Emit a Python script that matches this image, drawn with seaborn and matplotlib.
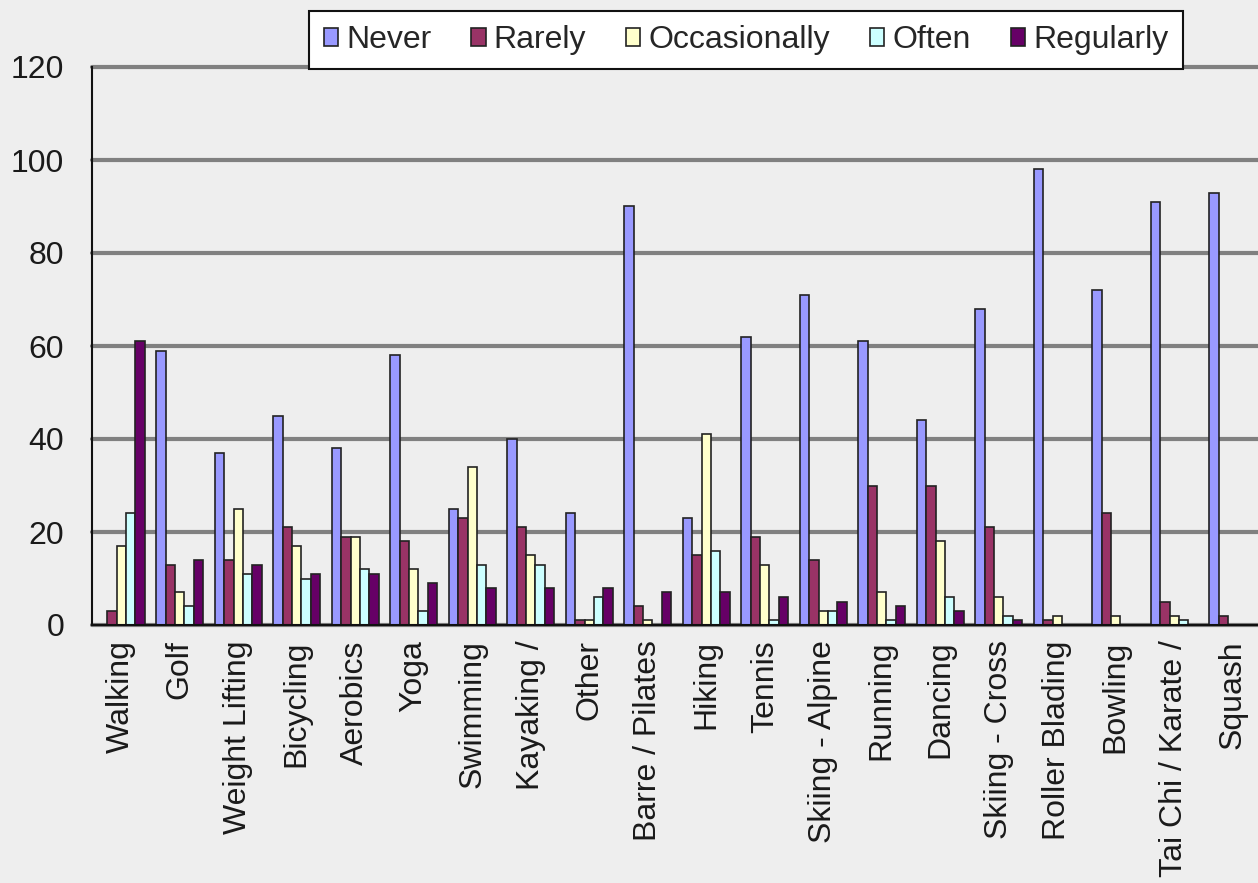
import numpy as np
import pandas as pd
import matplotlib
matplotlib.use("Agg")
import matplotlib.pyplot as plt
import seaborn as sns

# activities in chart order
activities = [
    "Walking", "Golf", "Weight Lifting", "Bicycling", "Aerobics", "Yoga",
    "Swimming", "Kayaking /", "Other", "Barre / Pilates", "Hiking", "Tennis",
    "Skiing - Alpine", "Running", "Dancing", "Skiing - Cross", "Roller Blading",
    "Bowling", "Tai Chi / Karate /", "Squash",
]
frequencies = ["Never", "Rarely", "Occasionally", "Often", "Regularly"]

never = [0, 59, 37, 45, 38, 58, 25, 40, 24, 90, 23, 62, 71, 61, 44, 68, 98, 72, 91, 93]
rarely = [3, 13, 14, 21, 19, 18, 23, 21, 1, 4, 15, 19, 14, 30, 30, 21, 1, 24, 5, 2]
occasionally = [17, 7, 25, 17, 19, 12, 34, 15, 1, 1, 41, 13, 3, 7, 18, 6, 2, 2, 2, 0]
often = [24, 4, 11, 10, 12, 3, 13, 13, 6, 0, 16, 1, 3, 1, 6, 2, 0, 0, 1, 0]
regularly = [61, 14, 13, 11, 11, 9, 8, 8, 8, 7, 7, 6, 5, 4, 3, 1, 0, 0, 0, 0]

colors = ["#9999FF", "#993366", "#FFFFCC", "#CCFFFF", "#660066"]

series = [never, rarely, occasionally, often, regularly]
df = pd.DataFrame({
    "Activity": np.repeat(activities, len(frequencies)),
    "Frequency": frequencies * len(activities),
    "Count": [s[i] for i in range(len(activities)) for s in series],
})

sns.set_theme(style="white")
plt.rcParams["font.family"] = ["Liberation Sans", "DejaVu Sans"]

bg = "#EEEEEE"
fig = plt.figure(figsize=(12.58, 8.83), dpi=100, facecolor=bg)
ax = fig.add_axes([92 / 1258, 1 - 625 / 883, (1262 - 92) / 1258, (625 - 67) / 883])
ax.set_facecolor(bg)

sns.barplot(
    data=df, x="Activity", y="Count", hue="Frequency",
    hue_order=frequencies, palette=colors, order=activities,
    width=0.8, gap=0, edgecolor="#222222", linewidth=1.2,
    saturation=1, ax=ax, errorbar=None,
)

ax.set_ylim(0, 120)
ax.set_xlim(-0.5, len(activities) - 0.5)
ax.set_yticks(range(0, 121, 20))
ax.yaxis.grid(True, color="#808080", linewidth=3)
for gl in ax.get_ygridlines():
    gl.set_clip_on(False)
ax.set_axisbelow(True)
ax.set_xlabel("")
ax.set_ylabel("")

for side in ["top", "right"]:
    ax.spines[side].set_visible(False)
for side in ["left", "bottom"]:
    ax.spines[side].set_color("#111111")
    ax.spines[side].set_linewidth(1.5)

# ticks between categories, like the original
ax.set_xticks(np.arange(-0.5, len(activities), 1), minor=True)
ax.tick_params(axis="x", which="major", length=0, pad=11, labelsize=23,
               labelcolor="#1a1a1a", rotation=90)
ax.tick_params(axis="x", which="minor", length=6, width=2, color="#666666", direction="out")
ax.tick_params(axis="y", length=8, width=2.5, color="#808080", pad=12,
               labelsize=23, labelcolor="#1a1a1a")
for lbl in ax.get_xticklabels():
    lbl.set_va("top")
    lbl.set_ha("center")

ax.get_legend().remove()
handles = [plt.Rectangle((0, 0), 1, 1, facecolor=c, edgecolor="#222222", linewidth=1.2)
           for c in colors]
leg = fig.legend(
    handles, frequencies, loc="center", ncol=5,
    bbox_to_anchor=(746 / 1258, 1 - 40 / 883),
    fontsize=23, frameon=True, fancybox=False, framealpha=1,
    handlelength=0.45, handleheight=0.5, handletextpad=0.25,
    columnspacing=1.25, borderpad=0.45, borderaxespad=0,
)
leg.get_frame().set_edgecolor("#111111")
leg.get_frame().set_linewidth(1.5)

fig.savefig("out.png", dpi=100, facecolor=bg)
